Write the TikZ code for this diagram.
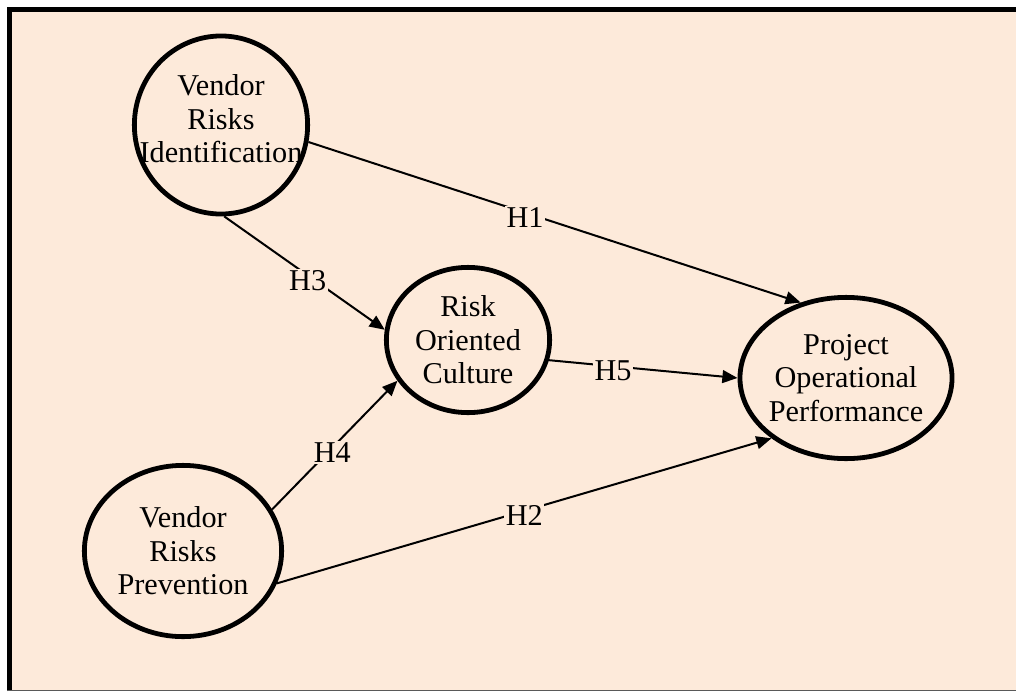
\documentclass[tikz,border=0pt]{standalone}
\usepackage{fontspec}
\setmainfont{Liberation Serif}
\usetikzlibrary{shapes.geometric}
\usetikzlibrary{arrows.meta}
\definecolor{peach}{RGB}{253,234,218}

\begin{document}
\begin{tikzpicture}[x=0.025cm,y=-0.025cm,
    construct/.style={ellipse,draw,line width=0.12cm,inner sep=0pt},
    txt/.style={align=center,font=\fontsize{21.5}{23.8}\selectfont},
    hyp/.style={-{Triangle[length=0.38cm,width=0.32cm]},line width=0.05cm},
    hlabel/.style={fill=peach,inner sep=1pt,yshift=-0.12cm,font=\fontsize{21.5}{23.8}\selectfont}]
    \useasboundingbox (0,0) rectangle (1016,691);
    \fill[peach] (7,7) rectangle (1016,691);
    \draw[line width=0.125cm] (9.5,691) -- (9.5,9.5) -- (1016,9.5);
    \draw[gray!70!black, very thin] (7,690) -- (1016,690);

    \node[construct, minimum width=4.33cm, minimum height=4.45cm,
        label={[txt,yshift=0.15cm]center:Vendor\\Risks\\Identification}] (vri) at (221,125) {};
    \node[construct, minimum width=4.08cm, minimum height=3.63cm,
        label={[txt]center:Risk\\Oriented\\Culture}] (roc) at (468,340) {};
    \node[construct, minimum width=5.3cm, minimum height=4.03cm,
        label={[txt]center:Project\\Operational\\Performance}] (pop) at (846,378) {};
    \node[construct, minimum width=4.93cm, minimum height=4.28cm,
        label={[txt]center:Vendor\\Risks\\Prevention}] (vrp) at (183,551) {};

    \draw[hyp] (vri.-11) -- node[hlabel, pos=0.44] {H1} (pop.121);
    \draw[hyp] (vri.-88) -- node[hlabel, pos=0.52] {H3} (roc.173);
    \draw[hyp] (vrp.25) -- node[hlabel, pos=0.48] {H4} (roc.210);
    \draw[hyp] (roc.-14) -- node[hlabel, pos=0.34] {H5} (pop.180);
    \draw[hyp] (vrp.-19) -- node[hlabel, pos=0.5] {H2} (pop.219);
\end{tikzpicture}
\end{document}
